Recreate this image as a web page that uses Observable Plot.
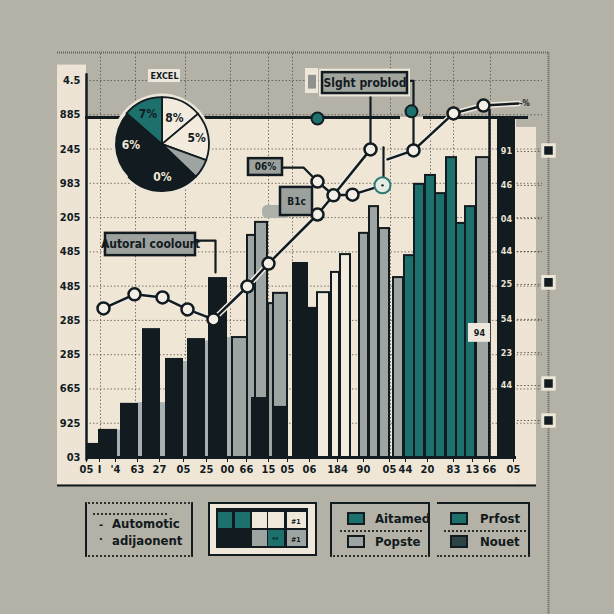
<!DOCTYPE html>
<html><head><meta charset="utf-8">
<script src="https://cdn.jsdelivr.net/npm/d3@7"></script>
<script src="https://cdn.jsdelivr.net/npm/@observablehq/plot@0.6"></script>
<style>
html,body{margin:0;padding:0;background:#b4b1a7;}
#wrap{position:relative;width:614px;height:614px;overflow:hidden;background:#b4b1a7;}
#chart{position:absolute;left:0;top:0;}
#legend{position:absolute;left:0;top:490px;width:614px;height:124px;}
.box{position:absolute;box-sizing:border-box;}
.t{position:absolute;font-family:"DejaVu Sans Condensed","DejaVu Sans",sans-serif;font-weight:bold;color:#111a1c;white-space:nowrap;font-size:13px;line-height:14px;}
</style></head><body>
<div id="wrap"><div id="chart"></div><div id="legend"></div></div>
<script>
// ---------- data ----------
const yTickLabels = ["03","925","665","285","285","485","485","205","983","245","885","4.5"];
const xTickPos = [0,1.3,2.9,5.1,7.3,9.7,12.0,14.1,16.0,18.2,20.1,22.3,25.1,27.7,30.3,31.9,34.1,36.7,38.6,40.3,42.7];
const xTickLabels = ["05","I","'4","63","27","05","25","00","66","15","05","06","184","90","05","44","20","83","13","66","05"];

const barStart = [0,1.2,3.4,5.6,7.9,10.1,12.2,14.6,16.1,16.9,18.2,18.7,20.6,22.2,23.1,24.5,25.4,27.3,28.3,29.3,30.7,31.8,32.8,33.9,34.9,36.0,37.0,37.9,39.0,41.1];
const barEnd   = [1.2,3.1,5.2,7.4,9.7,11.9,14.1,16.1,16.9,18.1,18.7,20.1,22.2,23.1,24.3,25.3,26.4,28.2,29.2,30.3,31.7,32.8,33.8,34.9,35.9,37.0,37.9,38.9,40.3,42.9];
const barValue = [0.41,0.82,1.58,3.76,2.89,3.47,5.25,3.50,6.48,6.86,4.49,4.79,5.69,4.38,4.81,5.40,5.92,6.54,7.32,6.68,5.25,5.89,7.97,8.23,7.70,8.75,6.83,7.32,8.75,9.92];
const barKind  = ["dark","dark","dark","dark","dark","dark","dark","gray","gray","gray","gray","gray","dark","dark","cream","cream","cream","gray","gray","gray","gray","teal","teal","teal","teal","teal","teal","teal","gray","dark"];

const frontStart = [16.5,18.7];
const frontEnd   = [18.0,20.1];
const frontValue = [1.75,1.49];

const shadowStart = [3.1,5.2,7.4,9.7,11.9,14.1];
const shadowEnd   = [3.4,5.6,7.9,10.1,12.2,14.6];
const shadowValue = [0.8,1.6,1.6,2.8,3.4,3.5];

const lineX   = [1.7,4.8,7.6,10.1,12.7,16.1,18.2,23.1,24.7,28.4, 30.1,32.7,36.7,39.7,43.2, 23.1,24.7,26.6,29.6];
const lineY   = [4.35,4.76,4.67,4.32,4.03,4.99,5.66,7.09,7.65,8.99, 8.70,8.96,10.04,10.27,10.33, 8.05,7.65,7.67,7.94];
const lineSeg = [0,0,0,0,0,0,0,0,0,0, 1,1,1,1,1, 2,2,2,2];
const lineMark= [1,1,1,1,1,1,1,1,1,1, 0,1,1,1,0, 1,0,1,0];

const pieValues = [50,60,24,91,86,49];
const pieLabels = ["8%","5%","","0%","6%","7%"];

const rightLabels = ["91","46","04","44","25","54","23","44"];
const rightLabelY = [8.93,7.94,6.97,6.01,5.05,4.03,3.06,2.10];
const markerY = [8.96,5.11,2.16,1.08];

const legendLabels = ["Aitamed","Popste","Prfost","Nouet"];

// ---------- styles ----------
const dark = "#121b1f", teal = "#1d716d", gray = "#9ea4a2", cream = "#efe6d6", creamBar = "#f3ecde";
const pieColors = [creamBar, creamBar, gray, dark, dark, teal];
const pieTextColors = [dark, dark, dark, "#efe8da", "#efe8da", dark];

const rows = (xs, f) => xs.map((_, i) => f(i));
const bars = rows(barStart, i => ({x1: barStart[i], x2: barEnd[i], v: barValue[i], k: barKind[i]}));
const front = rows(frontStart, i => ({x1: frontStart[i], x2: frontEnd[i], v: frontValue[i]}));
const shadows = rows(shadowStart, i => ({x1: shadowStart[i], x2: shadowEnd[i], v: shadowValue[i]}));
const pts = rows(lineX, i => ({x: lineX[i], y: lineY[i], seg: lineSeg[i], m: lineMark[i]}));
const xLabelMap = new Map(xTickPos.map((p, i) => [p, xTickLabels[i]]));
const gridX = [1.4,4.9,9.9,14.4,18.2,20.6,30.4,34.4,36.7,40.4];

// annotation layout (in chart units)
const callouts = [
  {t:"06%", x1:16.2, x2:19.6, y1:8.23, y2:8.72, fill:"#9ca19d", size:10},
  {t:"B1c", x1:19.4, x2:22.6, y1:7.06, y2:7.88, fill:"#9ca19d", size:10},
  {t:"Autoral coolourt", x1:1.9, x2:10.9, y1:5.89, y2:6.54, fill:"#9ca19d", size:12},
  {t:"Slght problod", x1:23.6, x2:32.1, y1:10.62, y2:11.23, fill:"#a2a59e", size:12},
  {t:"EXCEL", x1:6.2, x2:9.4, y1:10.94, y2:11.32, fill:"#eee8dc", size:9, nostroke:true},
  {t:"94", x1:38.2, x2:40.4, y1:3.36, y2:3.91, fill:"#eee8dc", size:9, nostroke:true}
];
const connectors = [
  {x:[19.6,21.7,23.1], y:[8.46,8.46,8.05]},
  {x:[10.9,12.9,12.9], y:[6.33,6.33,5.40]},
  {x:[32.1,32.7,32.7], y:[10.99,10.99,8.96]},
  {x:[28.4,28.4], y:[10.62,8.99]},
  {x:[29.7,29.7], y:[9.05,8.02]}
];
const connPts = connectors.flatMap((c, j) => c.x.map((x, i) => ({x, y: c.y[i], j})));

function pieMark(...args) {
  const s = args.find(a => a && typeof a.x === "function" && typeof a.y === "function");
  const cx = s.x(7.6), cy = s.y(9.13), r = 47;
  const g = d3.create("svg:g");
  g.append("circle").attr("cx", cx).attr("cy", cy).attr("r", r + 3.5).attr("fill", "#ece6d9");
  const arcs = d3.pie().sort(null).value(d => d)(pieValues);
  const arc = d3.arc().innerRadius(0).outerRadius(r);
  const gg = g.append("g").attr("transform", `translate(${cx},${cy})`);
  gg.selectAll("path").data(arcs).join("path").attr("d", arc)
    .attr("fill", (d, i) => pieColors[i]).attr("stroke", (d, i) => (i === 4 ? "none" : dark)).attr("stroke-width", 1.8);
  const lr = [0.62, 0.75, 0.7, 0.7, 0.66, 0.72];
  gg.selectAll("text").data(arcs).join("text")
    .attr("x", (d, i) => Math.sin((d.startAngle + d.endAngle) / 2) * r * lr[i])
    .attr("y", (d, i) => -Math.cos((d.startAngle + d.endAngle) / 2) * r * lr[i])
    .attr("text-anchor", "middle").attr("dy", "0.35em")
    .attr("font-size", 12).attr("font-weight", "bold")
    .attr("fill", (d, i) => pieTextColors[i]).text((d, i) => pieLabels[i]);
  return g.node();
}

const dotted = {stroke: "#3b3a35", strokeOpacity: 0.65, strokeDasharray: "1.5,2", strokeWidth: 1};

const chart = Plot.plot({
  width: 614, height: 490,
  marginLeft: 86, marginRight: 98, marginTop: 80, marginBottom: 33,
  x: {domain: [0, 43]},
  y: {domain: [0, 11]},
  style: {background: "transparent", fontFamily: "'DejaVu Sans Condensed','DejaVu Sans',sans-serif", fontWeight: "bold", color: dark, overflow: "visible"},
  marks: [
    // panels
    Plot.rect([0], {x1: -2.9, x2: 0, y1: -0.8, y2: 11.45, fill: "#ede4d5"}),
    Plot.rect([0], {x1: 0, x2: 43, y1: -0.8, y2: 9.92, fill: cream}),
    Plot.rect([0], {x1: 43, x2: 45, y1: -0.8, y2: 9.63, fill: "#efe4d4"}),
    // grid
    Plot.ruleY(d3.range(1, 12), {x1: 0, x2: 45.6, ...dotted}),
    Plot.ruleX(gridX, {y1: 0, y2: 11.82, ...dotted}),
    Plot.ruleY([11.82], {x1: -2.9, x2: 46.2, ...dotted, strokeWidth: 2, strokeDasharray: "1,1"}),
    Plot.ruleX([46.2], {y1: -4.6, y2: 11.82, ...dotted, strokeWidth: 2, strokeDasharray: "1,1"}),
    // bars
    Plot.rect(shadows, {x1: "x1", x2: "x2", y1: 0, y2: "v", fill: "#a9b0b1"}),
    Plot.rect(bars.filter(d => d.k === "gray"), {x1: "x1", x2: "x2", y1: 0, y2: "v", fill: gray, stroke: dark, strokeWidth: 2}),
    Plot.rect(bars.filter(d => d.k === "cream"), {x1: "x1", x2: "x2", y1: 0, y2: "v", fill: creamBar, stroke: dark, strokeWidth: 2}),
    Plot.rect(bars.filter(d => d.k === "teal"), {x1: "x1", x2: "x2", y1: 0, y2: "v", fill: teal, stroke: dark, strokeWidth: 2}),
    Plot.rect(bars.filter(d => d.k === "dark"), {x1: "x1", x2: "x2", y1: 0, y2: "v", fill: dark}),
    Plot.rect(front, {x1: "x1", x2: "x2", y1: 0, y2: "v", fill: dark}),
    // frame lines
    Plot.ruleY([9.92], {x1: -0.1, x2: 31.4, stroke: dark, strokeWidth: 3}),
    Plot.ruleY([9.92], {x1: 33.7, x2: 44.2, stroke: dark, strokeWidth: 3}),
    Plot.ruleX([40.3], {y1: 0, y2: 10.15, stroke: dark, strokeWidth: 2.5}),
    Plot.ruleY([0], {x1: 0, x2: 43, stroke: dark, strokeWidth: 3}),
    Plot.ruleX([0], {y1: -0.1, y2: 11.2, stroke: dark, strokeWidth: 2.5}),
    Plot.ruleY([-0.82], {x1: -2.9, x2: 45, stroke: dark, strokeWidth: 2}),
    // right side labels and markers
    Plot.text(rightLabels, {x: 42, y: (d, i) => rightLabelY[i], fill: "#e8e2d4", fontSize: 9}),
    Plot.ruleY(rightLabelY.concat([1.08]), {x1: 43.1, x2: 45.6, ...dotted, strokeOpacity: 0.8}),
    Plot.dot(markerY, {x: 46.2, y: d => d, symbol: "square", r: 6.5, fill: dark, stroke: "#ebe6d6", strokeWidth: 3}),
    // connectors
    Plot.line(connPts, {x: "x", y: "y", z: "j", stroke: dark, strokeWidth: 2.2}),
    // main line
    Plot.line(pts, {x: "x", y: "y", z: "seg", stroke: "#f1ece2", strokeWidth: 5.5}),
    Plot.line(pts, {x: "x", y: "y", z: "seg", stroke: dark, strokeWidth: 2.5}),
    Plot.dot(pts.filter(d => d.m), {x: "x", y: "y", r: 6, fill: "#f3efe7", stroke: dark, strokeWidth: 2.5}),
    Plot.dot([0], {x: 29.6, y: 7.94, r: 8, fill: "#e6ebe3", stroke: "#2b7a74", strokeWidth: 2}),
    Plot.dot([0], {x: 29.6, y: 7.94, r: 1.2, fill: dark}),
    Plot.dot([23.1, 32.5], {x: d => d, y: (d, i) => [9.89, 10.1][i], r: 6, fill: teal, stroke: dark, strokeWidth: 2}),
    Plot.text(["-%"], {x: 43.8, y: 10.33, fontSize: 8}),
    // callouts
    Plot.rect([0], {x1: 17.6, x2: 20.4, y1: 6.97, y2: 7.35, fill: "#aeb0aa", rx: 5}),
    Plot.rect([0], {x1: 23.3, x2: 32.4, y1: 10.52, y2: 11.33, fill: "#ede7da"}),
    Plot.rect([0], {x1: 21.9, x2: 23.2, y1: 10.62, y2: 11.35, fill: "#ede7da"}),
    Plot.rect([0], {x1: 22.2, x2: 23.0, y1: 10.75, y2: 11.15, fill: "#8e918d"}),
    Plot.rect(callouts, {x1: "x1", x2: "x2", y1: "y1", y2: "y2", fill: "fill", stroke: d => d.nostroke ? "none" : dark, strokeWidth: 2.5}),
    Plot.text(callouts, {x: d => (d.x1 + d.x2) / 2, y: d => (d.y1 + d.y2) / 2, text: "t", fontSize: d => d.size, fill: dark}),
    // pie
    pieMark,
    // axes
    Plot.axisY({ticks: d3.range(12), tickFormat: i => yTickLabels[i], tickSize: 0, tickPadding: 6, fontSize: 11, label: null}),
    Plot.axisX({ticks: xTickPos, tickFormat: d => xLabelMap.get(d), tickSize: 5, tickPadding: 3, fontSize: 11, label: null})
  ]
});
document.getElementById("chart").append(chart);

// ---------- legend ----------
const L = d3.select("#legend");
function box(x, y, w, h, style) { const d = L.append("div").attr("class", "box").style("left", x + "px").style("top", y + "px").style("width", w + "px").style("height", h + "px"); Object.entries(style || {}).forEach(([k, v]) => d.style(k, v)); return d; }
function txt(x, y, t, size) { L.append("div").attr("class", "t").style("left", x + "px").style("top", y + "px").style("font-size", (size || 13) + "px").text(t); }
const solid = "2.5px solid " + dark, dots = "2px dotted #2f2f2b";
// box 1
box(85, 12, 108, 55, {"border-left": solid, "border-right": solid, "border-top": dots, "border-bottom": dots});
box(93, 23, 74, 0, {"border-top": dots});
txt(99, 28, "-", 11); txt(99, 43, "·", 11);
txt(112, 27, "Automotic"); txt(112, 44, "adijaonent");
// box 2
box(208, 12, 109, 54, {border: solid, background: "#efe8da"});
box(216, 18, 92, 40, {background: dark});
const cells = [[218,22,14,16,teal,""],[235,22,15,16,teal,""],[252,22,15,16,"#efe8da",""],[268,22,16,16,"#efe8da",""],[287,22,19,16,"#efe8da","#1"],
               [252,40,15,16,gray,""],[268,40,16,16,teal,"**"],[287,40,19,16,gray,"#1"]];
cells.forEach(c => { const d = box(c[0], c[1], c[2], c[3], {background: c[4]}); if (c[5]) d.append("div").attr("class", "t").style("font-size", "7px").style("left", "4px").style("top", "3px").style("color", c[4] === teal ? "#0c2a28" : dark).text(c[5]); });
// box 3
box(330, 12, 100, 55, {"border-left": solid, "border-right": solid, "border-top": solid, "border-bottom": dots});
box(347, 22, 18, 13, {background: teal, border: "2px solid " + dark});
box(340, 40, 82, 0, {"border-top": dots});
box(347, 45, 18, 13, {background: gray, border: "2px solid " + dark});
txt(375, 22, legendLabels[0]); txt(375, 45, legendLabels[1]);
// box 4
box(437, 12, 93, 55, {"border-right": solid, "border-top": solid, "border-bottom": dots});
box(450, 22, 18, 13, {background: teal, border: "2px solid " + dark});
box(444, 40, 82, 0, {"border-top": dots});
box(450, 45, 18, 13, {background: "#2c4446", border: "2px solid " + dark});
txt(480, 22, legendLabels[2]); txt(480, 45, legendLabels[3]);
</script></body></html>
